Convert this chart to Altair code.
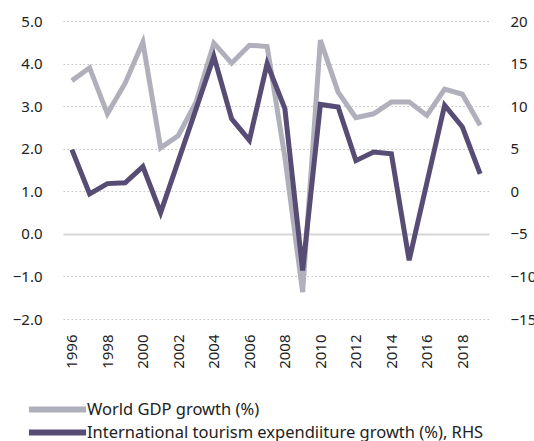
import altair as alt
import pandas as pd

years = [str(y) for y in range(1996, 2020)]
gdp = [3.6, 3.9, 2.82, 3.54, 4.5, 2.02, 2.31, 3.1, 4.48, 4.01, 4.43, 4.4, 1.8, -1.37,
       4.55, 3.33, 2.73, 2.82, 3.1, 3.1, 2.78, 3.4, 3.28, 2.55]
tourism = [4.9, -0.3, 0.9, 1.0, 2.9, -2.5, 3.6, 9.7, 15.85, 8.5, 6.0, 15.0, 9.7, -9.3,
           10.2, 9.9, 3.6, 4.6, 4.4, -8.1, 1.0, 10.1, 7.55, 2.05]
year_labels = [str(y) for y in range(1996, 2019, 2)]
left_ticks = [-2, -1, 0, 1, 2, 3, 4, 5]
right_ticks = [-15, -10, -5, 0, 5, 10, 15, 20]

s_gdp = "World GDP growth (%)"
s_tour = "International tourism expendiiture growth (%), RHS"

df_gdp = pd.DataFrame({"year": years, "value": gdp, "series": s_gdp})
df_tour = pd.DataFrame({"year": years, "value": tourism, "series": s_tour})

FONT = "Noto Sans"
TXT = "#222222"
color_scale = alt.Scale(domain=[s_gdp, s_tour], range=["#b0afbc", "#574c74"])

x_enc = alt.X("year:O", title=None, sort=None,
              scale=alt.Scale(paddingInner=0, paddingOuter=0),
              axis=alt.Axis(values=year_labels, labelAngle=-90, labelAlign="right",
                            labelBaseline="middle", labelPadding=15, ticks=False,
                            tickSize=0, domain=False, grid=False, labelFontSize=15,
                            labelColor=TXT, labelFont=FONT))

legend = alt.Legend(title=None, orient="none", legendX=-14, legendY=380,
                    direction="vertical", symbolType="M-5.2,0H5.2", symbolSize=121,
                    symbolStrokeWidth=6, symbolFillColor="transparent",
                    labelFontSize=16.5, labelFont=FONT,
                    labelColor=TXT, labelOffset=21, rowPadding=-2, labelLimit=500)

gdp_line = alt.Chart(df_gdp).mark_line(strokeWidth=5, strokeJoin="miter").encode(
    x=x_enc,
    y=alt.Y("value:Q", title=None,
            scale=alt.Scale(domain=[-2, 5], nice=False, zero=False),
            axis=alt.Axis(values=left_ticks, format=".1f", ticks=False, tickSize=0,
                          domain=False, grid=True,
                          gridDash={"condition": {"test": "datum.value === 0", "value": []},
                                    "value": [1.5, 2.5]},
                          gridColor={"condition": {"test": "datum.value === 0", "value": "#d6d6d6"},
                                     "value": "#c4c4c4"},
                          gridWidth={"condition": {"test": "datum.value === 0", "value": 1.8},
                                     "value": 1.2},
                          labelPadding=21, labelFontSize=15,
                          labelFont=FONT, labelColor=TXT)),
    color=alt.Color("series:N", scale=color_scale, legend=legend),
)

tour_line = alt.Chart(df_tour).mark_line(strokeWidth=5, strokeJoin="miter").encode(
    x=x_enc,
    y=alt.Y("value:Q", title=None,
            scale=alt.Scale(domain=[-15, 20], nice=False, zero=False),
            axis=alt.Axis(orient="right", values=right_ticks, ticks=False, tickSize=0,
                          domain=False, grid=False, labelPadding=21, labelFontSize=15,
                          labelFont=FONT, labelColor=TXT)),
    color=alt.Color("series:N", scale=color_scale, legend=legend),
)

chart = (
    alt.layer(gdp_line, tour_line)
    .resolve_scale(y="independent")
    .properties(
        width=426, height=298,
        background="white",
        autosize=alt.AutoSizeParams(type="none"),
        padding={"left": 63, "top": 21, "right": 45, "bottom": 122},
    )
    .configure_view(stroke=None, strokeWidth=0, strokeOpacity=0)
    .configure_axisX(grid=False)
)

chart.save("out.html", embed_options={"renderer": "svg", "actions": False})
